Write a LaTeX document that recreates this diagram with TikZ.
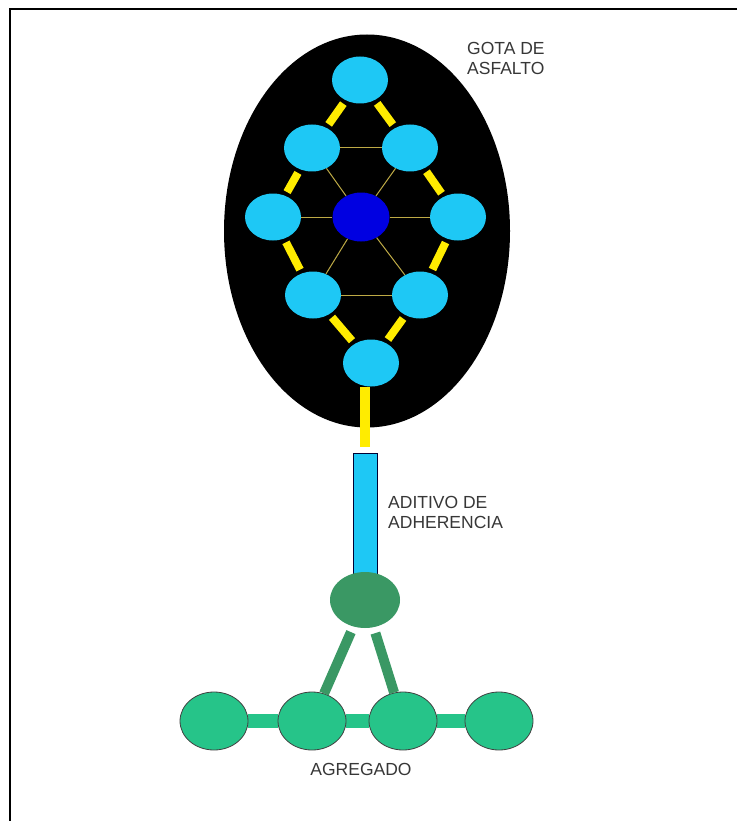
\documentclass[tikz,border=0pt]{standalone}
\usepackage{fontspec}
\setmainfont{Liberation Sans}
\usetikzlibrary{shapes.geometric}
\pgfdeclarelayer{background}
\pgfsetlayers{background,main}
\definecolor{atom}{RGB}{30,200,245}
\definecolor{core}{RGB}{0,0,225}
\definecolor{bond}{RGB}{255,236,0}
\definecolor{thinbond}{RGB}{190,170,70}
\definecolor{mint}{RGB}{38,196,137}
\definecolor{deepgreen}{RGB}{58,152,100}
\definecolor{labelgray}{RGB}{55,55,55}
\tikzset{
  atomnode/.style={ellipse, fill=atom, inner sep=0pt, minimum width=56pt, minimum height=47pt},
  corenode/.style={atomnode, fill=core, minimum width=57pt, minimum height=49pt},
  aggnode/.style={ellipse, fill=mint, draw=black!75, line width=0.8pt, inner sep=0pt, minimum width=68pt, minimum height=58pt},
  thick bond/.style={bond, line width=8pt, shorten <=4pt, shorten >=4pt},
  thin bond/.style={thinbond, line width=1pt},
  lbl/.style={text=labelgray, font=\fontsize{17.5}{20.5}\selectfont, align=left, inner sep=0pt}
}
\begin{document}
\begin{tikzpicture}[x=1pt, y=-1pt]
\useasboundingbox (0,0) rectangle (737,821);
\begin{pgfonlayer}{background}
  \fill[white] (0,0) rectangle (737,821);
\end{pgfonlayer}
% frame (top and left edges only)
\draw[line width=2pt, black] (737,9.5) -| (10,821);

% asphalt drop
\node[ellipse, fill=black, inner sep=0pt, minimum width=286pt, minimum height=393pt] (drop) at (367,231) {};

% molecule
\node[atomnode] (t)  at (360,80)  {};
\node[atomnode] (ul) at (312,148) {};
\node[atomnode] (ur) at (410,148) {};
\node[atomnode] (ml) at (273,217) {};
\node[corenode] (c)  at (361,217) {};
\node[atomnode] (mr) at (458,217) {};
\node[atomnode] (ll) at (313,295) {};
\node[atomnode] (lr) at (420,295) {};
\node[atomnode] (b)  at (371,363) {};

% thin inner bonds
\draw[thin bond] (ul) -- (ur);
\draw[thin bond] (ll) -- (lr);
\draw[thin bond] (ml) -- (c);
\draw[thin bond] (c) -- (mr);
\draw[thin bond] (ul) -- (c);
\draw[thin bond] (ur) -- (c);
\draw[thin bond] (c) -- (ll);
\draw[thin bond] (c) -- (lr);

% thick outer bonds
\draw[thick bond] (t) -- (ul);
\draw[thick bond] (t) -- (ur);
\draw[thick bond] (ul) -- (ml);
\draw[thick bond] (ur) -- (mr);
\draw[thick bond] (ml) -- (ll);
\draw[thick bond] (mr) -- (lr);
\draw[thick bond] (ll) -- (b);
\draw[thick bond] (lr) -- (b);

% stem to the additive
\coordinate (stemend) at (365,447);
\draw[bond, line width=10pt] (stemend |- b.south) -- (stemend);

\node[lbl, anchor=north west] (gota) at (467,42) {GOTA DE\\ASFALTO};

% adhesion additive
\node[draw=black!80!blue, fill=atom, line width=0.8pt, inner sep=0pt, minimum width=24pt, minimum height=124pt] (additive) at (365,515) {};
\node[lbl, anchor=north west] (aditivo) at (388,496) {ADITIVO DE\\ADHERENCIA};

\node[ellipse, fill=deepgreen, inner sep=0pt, minimum width=70pt, minimum height=56pt] (head) at (365,600) {};

% aggregate
\node[aggnode] (a1) at (214,721) {};
\node[aggnode] (a2) at (312,721) {};
\node[aggnode] (a3) at (403,721) {};
\node[aggnode] (a4) at (499,721) {};

\begin{pgfonlayer}{background}
  \draw[mint, line width=14pt] (a1) -- (a2) -- (a3) -- (a4);
\end{pgfonlayer}

\draw[deepgreen, line width=10pt, shorten <=6pt] (head) -- (a2);
\draw[deepgreen, line width=10pt, shorten <=6pt] (head) -- (a3);

\node[lbl, anchor=center] (agregado) at (361,769) {AGREGADO};
\end{tikzpicture}
\end{document}
